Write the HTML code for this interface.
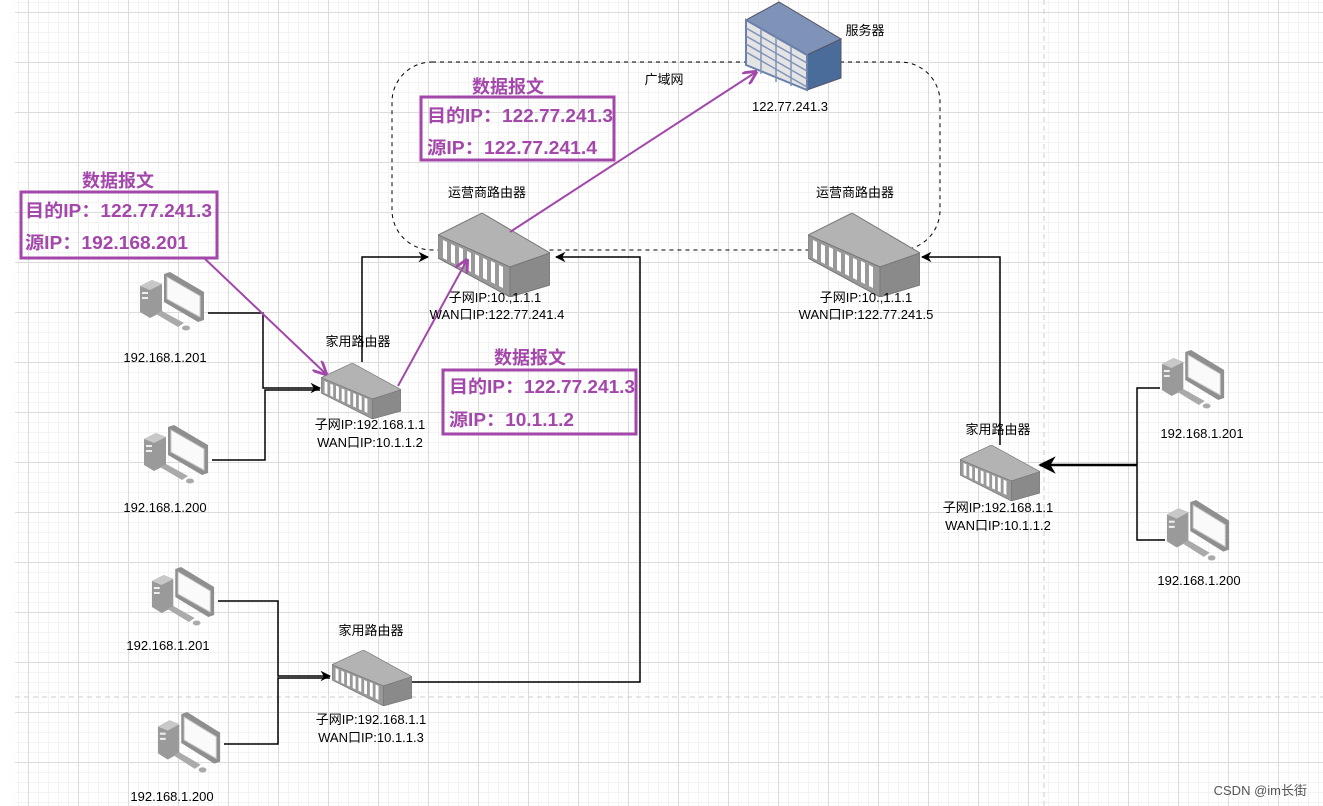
<!DOCTYPE html>
<html><head><meta charset="utf-8"><style>
html,body{margin:0;padding:0;background:#fff;}
#c{position:relative;width:1323px;height:806px;overflow:hidden;}
#g{position:absolute;left:15px;top:0;width:1308px;height:806px;
background-image:
linear-gradient(#dcdcdc 1px,transparent 1px),
linear-gradient(90deg,#dcdcdc 1px,transparent 1px),
linear-gradient(#f3f3f3 1px,transparent 1px),
linear-gradient(90deg,#f3f3f3 1px,transparent 1px);
background-size:50px 50px,50px 50px,10px 10px,10px 10px;
background-position:0 12px,13px 0,0 2px,3px 0;}
svg{position:absolute;left:0;top:0;}
text{font-family:"Liberation Sans","Noto Sans CJK SC",sans-serif;}
</style></head><body><div id="c"><div id="g"></div>
<svg width="1323" height="806" viewBox="0 0 1323 806">
<defs>
<symbol id="rt" viewBox="0 0 112 84" preserveAspectRatio="none">
<polygon points="0,22 44,0 112,40 72,54" fill="#b3b3b3" stroke="#777" stroke-width="1"/>
<polygon points="0,22 72,54 72,84 0,45" fill="#999" stroke="#777" stroke-width="1"/>
<polygon points="72,54 112,40 112,72 72,84" fill="#8a8a8a" stroke="#777" stroke-width="1"/>
<g fill="#fff">
<polygon points="5,27 9,29 9,47 5,45"/><polygon points="13,31 17,33 17,51 13,49"/>
<polygon points="21,34 25,36 25,55 21,53"/><polygon points="29,38 33,40 33,59 29,57"/>
<polygon points="37,41 41,43 41,63 37,61"/><polygon points="45,45 49,47 49,67 45,65"/>
<polygon points="53,48 57,50 57,71 53,69"/><polygon points="61,52 65,54 65,75 61,73"/>
</g></symbol>
<symbol id="pc" viewBox="0 0 70 60" preserveAspectRatio="none">
<polygon points="2,14 14,8 24,12 24,40 12,46 2,40" fill="#9a9a9a"/>
<polygon points="2,14 14,8 24,12 12,18" fill="#c8c8c8"/>
<rect x="4" y="20" width="6" height="2" fill="#eee"/><rect x="4" y="25" width="6" height="2" fill="#eee"/>
<polygon points="26,2 32,0 66,20 66,48 60,50 26,30" fill="#8f8f8f"/>
<polygon points="29,5 62,24 62,45 29,27" fill="#fafafa" stroke="#ccc"/>
<polygon points="18,42 24,39 46,51 40,55" fill="#aaa"/>
<ellipse cx="48" cy="56" rx="4" ry="2.5" fill="#aaa"/>
</symbol>
<marker id="a" viewBox="0 0 10 10" refX="9" refY="5" markerWidth="7" markerHeight="7" orient="auto"><path d="M0,0 L10,5 L0,10 L3,5z" fill="#000"/></marker>
<marker id="p" viewBox="0 0 10 10" refX="9" refY="5" markerWidth="7" markerHeight="7" orient="auto"><path d="M0,0 L10,5 L0,10" fill="none" stroke="#a347ab" stroke-width="2"/></marker>
</defs>
<line x1="1044" y1="0" x2="1044" y2="806" stroke="#ccc" stroke-dasharray="5,4"/>
<line x1="15" y1="697" x2="1323" y2="697" stroke="#ccc" stroke-dasharray="5,4"/>
<rect x="392" y="62" width="548" height="188" rx="40" fill="none" stroke="#000" stroke-dasharray="4,4"/>
<polygon points="746,20 779,2 841,39 807,55" fill="#7f93b8" stroke="#556"/>
<polygon points="807,55 841,39 841,78 807,90" fill="#4a6c9b" stroke="#556"/>
<polygon points="746,20 807,55 807,90 746,65" fill="#e4e4e4" stroke="#6a80aa" stroke-width="2"/>
<g stroke="#7f93b8" stroke-width="1.5">
<line x1="746" y1="28" x2="807" y2="63"/><line x1="746" y1="36" x2="807" y2="71"/><line x1="746" y1="44" x2="807" y2="79"/><line x1="746" y1="52" x2="807" y2="87"/>
<line x1="761" y1="29" x2="761" y2="74"/><line x1="776" y1="37" x2="776" y2="82"/><line x1="791" y1="46" x2="791" y2="86"/>
</g>
<g stroke="#000" stroke-width="1.5" fill="none">
<polyline points="208,313 263,313 263,388 320,388" marker-end="url(#a)"/>
<polyline points="212,460 265,460 265,390 320,390"/>
<polyline points="362,362 362,257 428,257" marker-end="url(#a)"/>
<polyline points="412,682 640,682 640,257 556,257" marker-end="url(#a)"/>
<polyline points="218,601 278,601 278,676 330,676" marker-end="url(#a)"/>
<polyline points="224,744 278,744 278,678 330,678"/>
<polyline points="1000,445 1000,257 922,257" marker-end="url(#a)"/>
<polyline points="1160,388 1137,388 1137,540 1165,540"/>
<line x1="1137" y1="465" x2="1040" y2="465" stroke-width="2.5" marker-end="url(#a)"/>
</g>
<use href="#rt" x="438" y="213" width="112" height="84"/>
<use href="#rt" x="808" y="213" width="112" height="84"/>
<use href="#rt" x="321" y="363" width="80" height="56"/>
<use href="#rt" x="960" y="445" width="80" height="56"/>
<use href="#rt" x="332" y="650" width="80" height="56"/>
<use href="#pc" x="138" y="272" width="70" height="60"/>
<use href="#pc" x="142" y="425" width="70" height="60"/>
<use href="#pc" x="150" y="567" width="68" height="60"/>
<use href="#pc" x="156" y="712" width="68" height="62"/>
<use href="#pc" x="1160" y="350" width="68" height="60"/>
<use href="#pc" x="1165" y="500" width="68" height="62"/>
<g stroke="#a347ab" stroke-width="2" fill="none">
<line x1="203" y1="257" x2="326" y2="374" marker-end="url(#p)"/>
<line x1="398" y1="386" x2="467" y2="260" marker-end="url(#p)"/>
<line x1="510" y1="232" x2="756" y2="72" marker-end="url(#p)"/>
<rect x="21" y="192" width="196" height="66" stroke-width="3"/>
<rect x="421" y="97" width="193" height="63" stroke-width="3"/>
<rect x="443" y="370" width="193" height="64" stroke-width="3"/>
</g>
<g fill="#a347ab" font-weight="bold" font-size="18">
<text x="118" y="187" text-anchor="middle">数据报文</text>
<text x="25" y="217" textLength="187" lengthAdjust="spacingAndGlyphs">目的IP：122.77.241.3</text>
<text x="25" y="249" textLength="163" lengthAdjust="spacingAndGlyphs">源IP：192.168.201</text>
<text x="508" y="93" text-anchor="middle">数据报文</text>
<text x="427" y="122" textLength="186" lengthAdjust="spacingAndGlyphs">目的IP：122.77.241.3</text>
<text x="427" y="154" textLength="170" lengthAdjust="spacingAndGlyphs">源IP：122.77.241.4</text>
<text x="530" y="364" text-anchor="middle">数据报文</text>
<text x="449" y="393" textLength="186" lengthAdjust="spacingAndGlyphs">目的IP：122.77.241.3</text>
<text x="449" y="426" textLength="125" lengthAdjust="spacingAndGlyphs">源IP：10.1.1.2</text>
</g>
<g font-size="13" fill="#000" text-anchor="middle">
<text x="865" y="35">服务器</text>
<text x="790" y="111">122.77.241.3</text>
<text x="664" y="84">广域网</text>
<text x="487" y="197">运营商路由器</text>
<text x="855" y="197">运营商路由器</text>
<text x="495" y="302">子网IP:10.,1.1.1</text>
<text x="497" y="319">WAN口IP:122.77.241.4</text>
<text x="866" y="302">子网IP:10.,1.1.1</text>
<text x="866" y="319">WAN口IP:122.77.241.5</text>
<text x="358" y="346">家用路由器</text>
<text x="370" y="429">子网IP:192.168.1.1</text>
<text x="370" y="447">WAN口IP:10.1.1.2</text>
<text x="371" y="635">家用路由器</text>
<text x="371" y="724">子网IP:192.168.1.1</text>
<text x="371" y="742">WAN口IP:10.1.1.3</text>
<text x="998" y="434">家用路由器</text>
<text x="998" y="512">子网IP:192.168.1.1</text>
<text x="998" y="530">WAN口IP:10.1.1.2</text>
<text x="165" y="362">192.168.1.201</text>
<text x="165" y="512">192.168.1.200</text>
<text x="168" y="650">192.168.1.201</text>
<text x="172" y="801">192.168.1.200</text>
<text x="1202" y="438">192.168.1.201</text>
<text x="1199" y="585">192.168.1.200</text>
</g>
<text x="1307" y="795" font-size="13" fill="#555" text-anchor="end">CSDN @im长街</text>
</svg></div></body></html>
